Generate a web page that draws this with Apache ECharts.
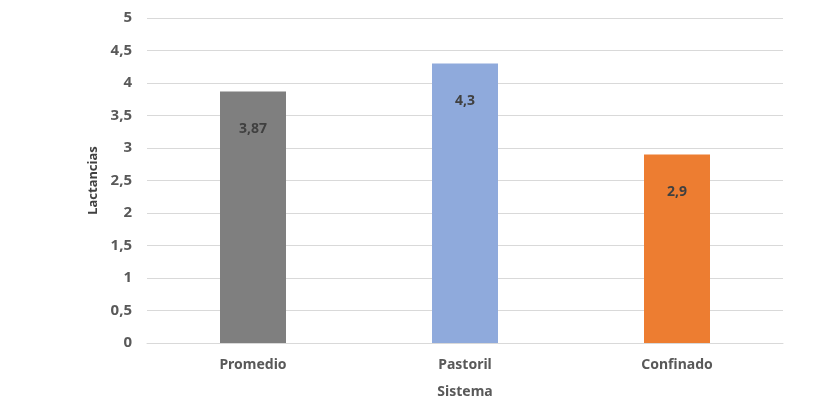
<!DOCTYPE html>
<html><head><meta charset="utf-8">
<script src="https://cdn.jsdelivr.net/npm/echarts@6/dist/echarts.min.js"></script>
<style>html,body{margin:0;padding:0;background:#fff}#c{width:840px;height:420px}</style>
</head><body><div id="c"></div>
<script>
const categories = ['Promedio', 'Pastoril', 'Confinado'];
const values = [3.87, 4.3, 2.9];
const barColors = ['#7f7f7f', '#8faadc', '#ed7d31'];
const yAxisName = 'Lactancias';
const xAxisName = 'Sistema';

const fmt = v => String(v).replace('.', ',');
const font = '"Noto Sans", sans-serif';
const chart = echarts.init(document.getElementById('c'));
chart.setOption({
  animation: false,
  grid: { left: 147, right: 57, top: 18, bottom: 77 },
  xAxis: {
    type: 'category', data: categories,
    name: xAxisName, nameLocation: 'middle', nameGap: 42,
    nameTextStyle: { fontFamily: font, fontWeight: 'bold', fontSize: 14, color: '#595959' },
    axisLine: { lineStyle: { color: '#d9d9d9' } },
    axisTick: { show: false },
    axisLabel: { fontFamily: font, fontWeight: 'bold', fontSize: 14, color: '#595959', margin: 15 }
  },
  yAxis: {
    type: 'value', min: 0, max: 5, interval: 0.5,
    name: yAxisName, nameLocation: 'middle', nameGap: 39,
    nameTextStyle: { fontFamily: font, fontWeight: 'bold', fontSize: 13, color: '#404040' },
    axisLine: { show: false }, axisTick: { show: false },
    splitLine: { lineStyle: { color: '#d9d9d9' } },
    axisLabel: { fontFamily: font, fontWeight: 'bold', fontSize: 15, color: '#595959', margin: 15, formatter: v => fmt(v) }
  },
  series: [{
    type: 'bar', barWidth: 66,
    data: values.map((v, i) => ({ value: v, itemStyle: { color: barColors[i] } })),
    label: { show: true, position: 'insideTop', distance: 31, fontFamily: font, fontWeight: 'bold', fontSize: 14, color: '#404040', formatter: p => fmt(p.value) }
  }]
});
</script></body></html>
